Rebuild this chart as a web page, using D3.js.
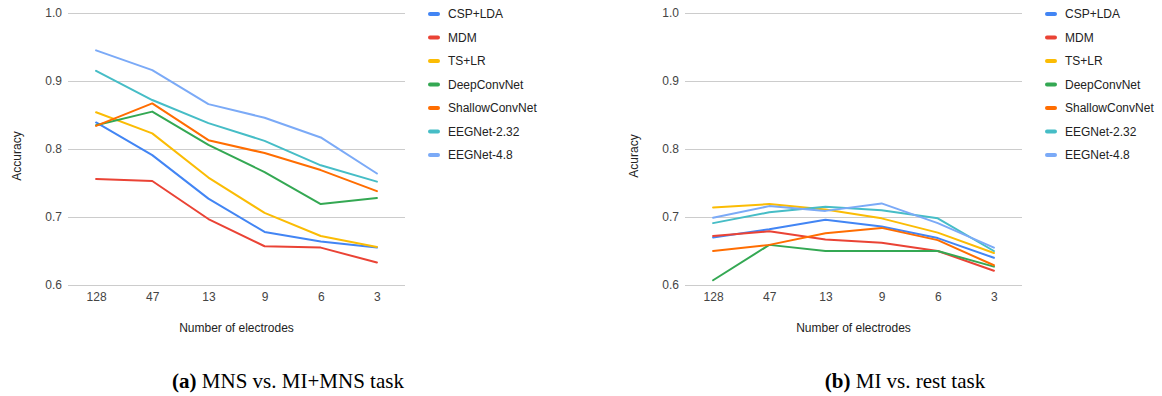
<!DOCTYPE html>
<html>
<head>
<meta charset="utf-8">
<script src="https://cdn.jsdelivr.net/npm/d3@7"></script>
<style>
  html, body { margin: 0; padding: 0; background: #fff; }
  svg { display: block; }
</style>
</head>
<body>
<svg id="chart" width="1162" height="396"></svg>
<script>
// ---- data ----
const categories = ["128", "47", "13", "9", "6", "3"];
const seriesNames = ["CSP+LDA", "MDM", "TS+LR", "DeepConvNet", "ShallowConvNet", "EEGNet-2.32", "EEGNet-4.8"];
const yTicks = [0.6, 0.7, 0.8, 0.9, 1.0];

// Panel (a): MNS vs. MI+MNS task
const a_cspLda      = [0.839, 0.791, 0.727, 0.678, 0.664, 0.655];
const a_mdm         = [0.756, 0.753, 0.697, 0.657, 0.655, 0.633];
const a_tsLr        = [0.854, 0.823, 0.758, 0.706, 0.672, 0.656];
const a_deepConv    = [0.835, 0.855, 0.806, 0.766, 0.719, 0.728];
const a_shallowConv = [0.834, 0.867, 0.813, 0.794, 0.769, 0.738];
const a_eegnet232   = [0.915, 0.872, 0.838, 0.812, 0.776, 0.752];
const a_eegnet48    = [0.945, 0.916, 0.866, 0.846, 0.817, 0.764];

// Panel (b): MI vs. rest task
const b_cspLda      = [0.670, 0.682, 0.696, 0.686, 0.669, 0.640];
const b_mdm         = [0.672, 0.679, 0.667, 0.662, 0.650, 0.621];
const b_tsLr        = [0.714, 0.719, 0.711, 0.698, 0.677, 0.647];
const b_deepConv    = [0.607, 0.659, 0.650, 0.650, 0.650, 0.627];
const b_shallowConv = [0.650, 0.659, 0.676, 0.684, 0.666, 0.629];
const b_eegnet232   = [0.691, 0.707, 0.715, 0.710, 0.698, 0.650];
const b_eegnet48    = [0.699, 0.716, 0.709, 0.720, 0.691, 0.655];

const panelA = [a_cspLda, a_mdm, a_tsLr, a_deepConv, a_shallowConv, a_eegnet232, a_eegnet48];
const panelB = [b_cspLda, b_mdm, b_tsLr, b_deepConv, b_shallowConv, b_eegnet232, b_eegnet48];

const xTitle = "Number of electrodes";
const yTitleA = "Accuracy";
const yTitleB = "Acuracy";
const captionA = ["(a)", " MNS vs. MI+MNS task"];
const captionB = ["(b)", " MI vs. rest task"];

// ---- styles ----
const colors = ["#4285F4", "#EA4335", "#FBBC04", "#34A853", "#FF6D01", "#46BDC6", "#7BAAF7"];
const sansFont = "'Liberation Sans', Arial, sans-serif";
const serifFont = "'Liberation Serif', 'Times New Roman', serif";

const svg = d3.select("#chart");

function drawPanel(offsetX, values, yTitle, caption, captionX) {
  const g = svg.append("g").attr("transform", `translate(${offsetX},0)`);
  const left = 68, right = 405, top = 13, bottom = 285;

  const x = d3.scalePoint().domain(categories).range([left, right]).padding(0.5);
  const y = d3.scaleLinear().domain([0.6, 1.0]).range([bottom, top]);

  // y axis with gridlines
  const yAxis = d3.axisLeft(y).tickValues(yTicks).tickFormat(d3.format(".1f"))
    .tickSize(-(right - left)).tickPadding(6);
  const ya = g.append("g").attr("transform", `translate(${left},0)`).call(yAxis);
  ya.select(".domain").remove();
  ya.selectAll(".tick line").attr("stroke", "#cccccc").attr("stroke-width", 1);
  ya.selectAll(".tick text").attr("fill", "#444").style("font-family", sansFont).style("font-size", "12px");

  // x axis labels
  const xAxis = d3.axisBottom(x).tickSize(0).tickPadding(7);
  const xa = g.append("g").attr("transform", `translate(0,${bottom})`).call(xAxis);
  xa.select(".domain").remove();
  xa.selectAll(".tick text").attr("fill", "#444").style("font-family", sansFont).style("font-size", "12px");

  // lines
  const line = d3.line().x((d, i) => x(categories[i])).y(d => y(d));
  g.append("g").selectAll("path").data(values).join("path")
    .attr("d", d => line(d))
    .attr("fill", "none")
    .attr("stroke", (d, i) => colors[i])
    .attr("stroke-width", 2)
    .attr("stroke-linejoin", "round")
    .attr("stroke-linecap", "round");

  // axis titles
  g.append("text")
    .attr("x", (left + right) / 2).attr("y", 332)
    .attr("text-anchor", "middle")
    .attr("fill", "#222")
    .style("font-family", sansFont).style("font-size", "12px")
    .text(xTitle);

  g.append("text")
    .attr("transform", `translate(21,156) rotate(-90)`)
    .attr("text-anchor", "middle")
    .attr("fill", "#222")
    .style("font-family", sansFont).style("font-size", "12px")
    .text(yTitle);

  // legend
  const lg = g.append("g");
  const rows = lg.selectAll("g").data(seriesNames).join("g")
    .attr("transform", (d, i) => `translate(428,${14 + i * 23.5})`);
  rows.append("rect")
    .attr("x", 0).attr("y", -2).attr("width", 12).attr("height", 4).attr("rx", 2)
    .attr("fill", (d, i) => colors[i]);
  rows.append("text")
    .attr("x", 20).attr("y", 0).attr("dy", "0.35em")
    .attr("fill", "#222")
    .style("font-family", sansFont).style("font-size", "12px")
    .text(d => d);

  // caption
  const cap = svg.append("text")
    .attr("x", captionX).attr("y", 388)
    .attr("text-anchor", "middle")
    .attr("fill", "#000")
    .style("font-family", serifFont).style("font-size", "21px");
  cap.append("tspan").style("font-weight", "bold").text(caption[0]);
  cap.append("tspan").text(caption[1]);
}

drawPanel(0, panelA, yTitleA, captionA, 288);
drawPanel(617, panelB, yTitleB, captionB, 905);
</script>
</body>
</html>
